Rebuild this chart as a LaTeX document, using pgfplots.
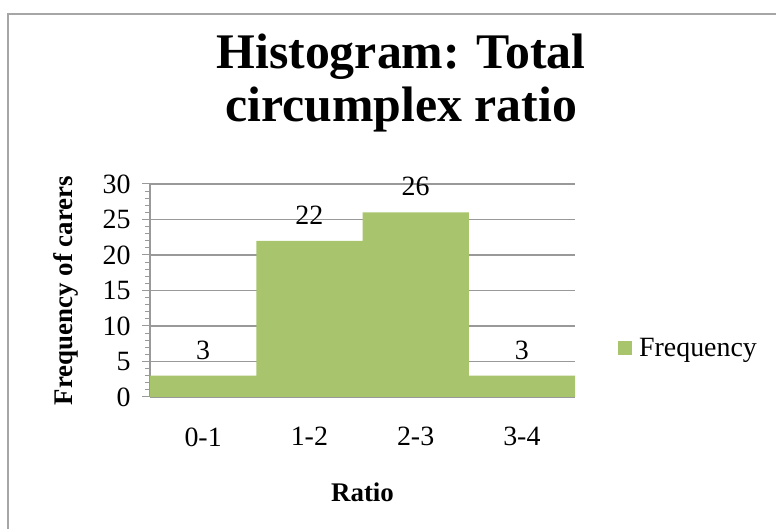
\documentclass[border=0pt]{standalone}
\usepackage{pgfplots}
\pgfplotsset{compat=1.18}
\usepackage{fontspec}
\setmainfont{Liberation Serif}
\definecolor{barg}{HTML}{A8C46C}
\definecolor{gridg}{HTML}{999999}
\definecolor{frameg}{HTML}{A6A6A6}
\begin{document}
\begin{tikzpicture}[x=1bp,y=1bp]
\path[use as bounding box] (0,0) rectangle (776,529);
\draw[color=frameg, line width=2bp] (8,-2) -- (8,515) -- (778,515);
\node[font=\fontsize{50}{55}\selectfont\bfseries, anchor=base, inner sep=0] at (401,460) {Histogram: Total};
\node[font=\fontsize{50}{55}\selectfont\bfseries, anchor=base, inner sep=0] at (401,407) {circumplex ratio};
\begin{axis}[
  at={(150bp,132bp)}, anchor=south west,
  scale only axis, width=425bp, height=213bp,
  xmin=0, xmax=4, ymin=0, ymax=30,
  axis lines*=left,
  axis line style={gridg, line width=1.2bp},
  ybar, bar width=1,
  ytick={0,5,...,30},
  minor y tick num=4,
  ymajorgrids,
  grid style={gridg, line width=1.2bp},
  tick style={gridg, line width=1bp},
  tick align=outside,
  major tick length=8bp,
  minor tick length=5bp,
  xtick={0.5,1.5,2.5,3.5},
  xticklabels={0-1,1-2,2-3,3-4},
  major x tick style={draw=none},
  extra x ticks={0,1,2,3,4},
  extra x tick labels={},
  extra x tick style={grid=none, major tick length=8bp, tick style={gridg, line width=1bp}},
  /pgf/number format/assume math mode=true,
  ticklabel style={font=\fontsize{28}{32}\selectfont, text=black},
  yticklabel style={xshift=-8bp},
  xticklabel style={yshift=-19bp},
  xlabel={Ratio},
  ylabel={Frequency of carers},
  label style={font=\fontsize{27}{30}\selectfont\bfseries},
  xlabel style={yshift=-14bp},
  ylabel style={yshift=17bp},
  legend style={at={(1.101,0.23)}, anchor=west, draw=none, fill=none, inner sep=0pt,
    font=\fontsize{28}{32}\selectfont, /tikz/every odd column/.append style={column sep=5bp}},
  legend image code/.code={\fill[barg] (0bp,-7bp) rectangle (14bp,7bp);},
  clip=false,
]
\addplot[fill=barg, draw=none] coordinates {(0.5,3) (1.5,22) (2.5,26) (3.5,3)};
\addlegendentry{Frequency}
\node[font=\fontsize{28}{32}\selectfont] at (axis cs:0.5,6.6) {3};
\node[font=\fontsize{28}{32}\selectfont] at (axis cs:1.5,25.6) {22};
\node[font=\fontsize{28}{32}\selectfont] at (axis cs:2.5,29.6) {26};
\node[font=\fontsize{28}{32}\selectfont] at (axis cs:3.5,6.6) {3};
\end{axis}
\end{tikzpicture}
\end{document}
